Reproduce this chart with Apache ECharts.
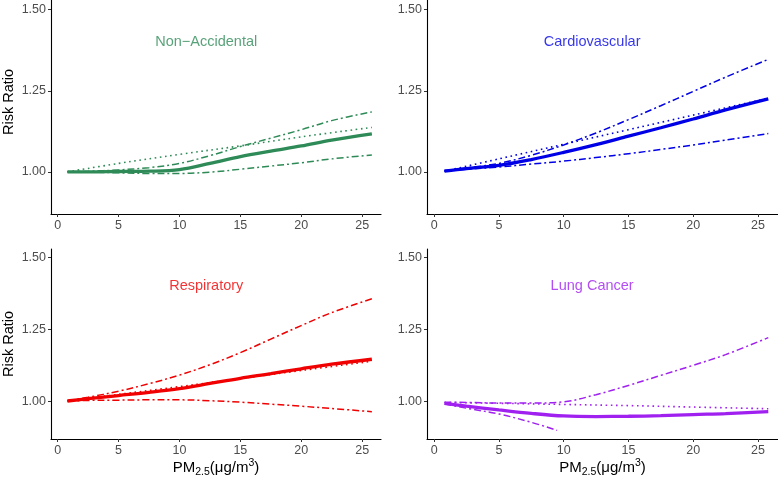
<!DOCTYPE html>
<html>
<head>
<meta charset="utf-8">
<script src="https://cdn.jsdelivr.net/npm/echarts@6/dist/echarts.min.js"></script>
<style>html,body{margin:0;padding:0;background:#fff}#c{width:778px;height:480px}</style>
</head>
<body>
<div id="c"></div>
<script>
// ---- data ----
const xs = [0.8, 2.5, 5, 7.5, 10, 12.5, 15, 17.5, 20, 22.5, 25.8];
const xsDot = [0.8, 5, 10, 15, 20, 25.8];

const titles = ['Non\u2212Accidental', 'Cardiovascular', 'Respiratory', 'Lung Cancer'];
const colors = ['#2E8B57', '#0000E6', '#F00000', '#A020F0'];
const titlePos = [12.2, 1.4];

const naEst   = [1.000, 1.000, 1.001, 1.002, 1.007, 1.026, 1.047, 1.064, 1.080, 1.098, 1.117];
const naUpper = [1.000, 1.002, 1.006, 1.013, 1.026, 1.050, 1.078, 1.104, 1.130, 1.158, 1.185];
const naLower = [1.000, 0.999, 0.997, 0.995, 0.995, 0.999, 1.008, 1.018, 1.028, 1.040, 1.052];
const naLin   = [1.000, 1.026, 1.054, 1.080, 1.108, 1.137];

const cvEst   = [1.002, 1.010, 1.020, 1.038, 1.060, 1.084, 1.110, 1.136, 1.163, 1.191, 1.225];
const cvUpper = [1.004, 1.012, 1.026, 1.051, 1.083, 1.120, 1.161, 1.204, 1.248, 1.292, 1.347];
const cvLower = [1.002, 1.008, 1.015, 1.024, 1.033, 1.044, 1.056, 1.069, 1.083, 1.098, 1.118];
const cvLin   = [1.002, 1.040, 1.085, 1.130, 1.175, 1.227];

const rsEst   = [1.002, 1.010, 1.021, 1.032, 1.045, 1.063, 1.081, 1.097, 1.114, 1.130, 1.147];
const rsUpper = [1.003, 1.015, 1.036, 1.062, 1.092, 1.128, 1.170, 1.217, 1.264, 1.309, 1.357];
const rsLower = [1.002, 1.004, 1.005, 1.006, 1.006, 1.003, 0.998, 0.991, 0.984, 0.976, 0.965];
const rsLin   = [1.002, 1.025, 1.052, 1.080, 1.108, 1.140];

const lcEst   = [0.994, 0.984, 0.971, 0.959, 0.950, 0.948, 0.949, 0.951, 0.955, 0.958, 0.965];
const lcUpper = [0.998, 0.997, 0.995, 0.995, 0.999, 1.024, 1.056, 1.091, 1.126, 1.163, 1.222];
const lcLowerX = [0.8, 2.5, 5, 7.5, 9.5];
const lcLower = [0.992, 0.977, 0.957, 0.928, 0.900];
const lcLin   = [0.997, 0.994, 0.990, 0.986, 0.981, 0.975];

const xTicks = [0, 5, 10, 15, 20, 25];
const yTicks = [1.00, 1.25, 1.50];
const xRange = [-0.55, 26.55];
const yRange = [0.87, 1.53];

const panels = [
  {est: naEst, up: naUpper, lo: naLower, loX: xs, lin: naLin},
  {est: cvEst, up: cvUpper, lo: cvLower, loX: xs, lin: cvLin},
  {est: rsEst, up: rsUpper, lo: rsLower, loX: xs, lin: rsLin},
  {est: lcEst, up: lcUpper, lo: lcLower, loX: lcLowerX, lin: lcLin}
];

const zip = (a, b) => a.map((v, i) => [v, b[i]]);
const FONT = '"Liberation Sans", Arial, sans-serif';

const grids = [
  {left: 49, top: 0, width: 332, height: 214},
  {left: 427, top: 0, width: 352, height: 214},
  {left: 49, top: 249, width: 332, height: 190},
  {left: 427, top: 249, width: 352, height: 190}
];

const xAxes = grids.map((g, i) => ({
  type: 'value', gridIndex: i, min: xRange[0], max: xRange[1],
  splitLine: {show: false},
  axisLine: {onZero: false, lineStyle: {color: '#000', width: 1.1}},
  axisTick: {length: 3, lineStyle: {color: '#333'}, customValues: xTicks},
  axisLabel: {customValues: xTicks, color: '#4D4D4D', fontSize: 12.5, fontFamily: FONT, margin: 5},
  name: i >= 2 ? '{n|PM}{s|2.5}{n|(\u03BCg/m}{p|3}{n|)}' : '',
  nameLocation: 'middle', nameGap: 18,
  nameTextStyle: {
    rich: {
      n: {fontSize: 15, fontFamily: FONT, color: '#000', lineHeight: 20, verticalAlign: 'middle'},
      s: {fontSize: 10.5, fontFamily: FONT, color: '#000', lineHeight: 11, verticalAlign: 'bottom'},
      p: {fontSize: 10.5, fontFamily: FONT, color: '#000', lineHeight: 11, verticalAlign: 'top'}
    }
  }
}));

const yAxes = grids.map((g, i) => ({
  type: 'value', gridIndex: i, min: yRange[0], max: yRange[1],
  splitLine: {show: false},
  axisLine: {show: true, onZero: false, lineStyle: {color: '#000', width: 1.1}},
  axisTick: {show: true, length: 3, lineStyle: {color: '#333'}, customValues: yTicks},
  axisLabel: {customValues: yTicks, color: '#4D4D4D', fontSize: 12.5, fontFamily: FONT, margin: 5,
              formatter: v => v.toFixed(2)},
  name: (i % 2 === 0) ? 'Risk Ratio' : '',
  nameLocation: 'middle', nameGap: 35,
  nameTextStyle: {fontSize: 14.5, fontFamily: FONT, color: '#000', padding: i === 0 ? [0, 0, 0, 10] : 0}
}));

const dashDot = [7, 3, 2, 3];
const series = [];
panels.forEach((p, i) => {
  const c = colors[i];
  const common = {type: 'line', xAxisIndex: i, yAxisIndex: i, smooth: 0.35, showSymbol: false};
  series.push(Object.assign({}, common, {data: zip(xs, p.up), lineStyle: {color: c, width: 1.5, type: dashDot}}));
  series.push(Object.assign({}, common, {data: zip(p.loX, p.lo), lineStyle: {color: c, width: 1.5, type: dashDot}}));
  series.push(Object.assign({}, common, {data: zip(xsDot, p.lin), lineStyle: {color: c, width: 1.6, type: [1.6, 3.6]}}));
  series.push(Object.assign({}, common, {data: zip(xs, p.est), lineStyle: {color: c, width: 3.3}}));
  series.push({type: 'scatter', xAxisIndex: i, yAxisIndex: i, data: [titlePos], symbolSize: 1,
    itemStyle: {color: 'rgba(0,0,0,0)'},
    label: {show: true, position: 'inside', formatter: titles[i], color: c, fontSize: 14.5, fontFamily: FONT}});
});

const chart = echarts.init(document.getElementById('c'), null, {renderer: 'canvas'});
chart.setOption({
  animation: false,
  backgroundColor: '#fff',
  grid: grids,
  xAxis: xAxes,
  yAxis: yAxes,
  series: series
});
</script>
</body>
</html>
